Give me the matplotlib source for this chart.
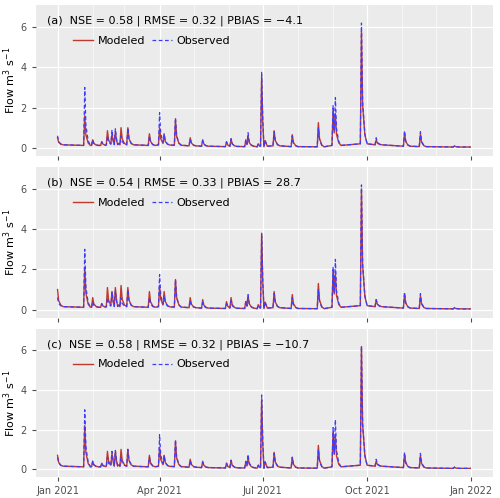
import matplotlib
matplotlib.use("Agg")
import matplotlib.pyplot as plt
import matplotlib.dates as mdates
import datetime as dt

# event day-of-year (0 = 1 Jan 2021) and peak flows
event_days = [0, 24, 31, 39, 44, 48, 51, 56, 62, 81, 90, 94, 104, 117, 128, 149, 153, 166, 168, 177,
              180, 191, 207, 230, 243, 245, 268, 281, 306, 320, 350]
obs_peak = [0.6, 3.0, 0.4, 0.3, 0.6, 0.9, 0.95, 0.6, 1.0, 0.6, 1.75, 0.7, 1.5, 0.45, 0.35, 0.3, 0.45, 0.4, 0.75, 0.2,
            3.75, 0.8, 0.6, 1.0, 2.1, 2.5, 6.2, 0.5, 0.85, 0.8, 0.1]
mod_a = [0.5, 1.6, 0.4, 0.3, 0.85, 0.7, 0.8, 1.0, 1.0, 0.7, 1.0, 0.65, 1.4, 0.5, 0.4, 0.3, 0.45, 0.35, 0.6, 0.2,
         3.5, 0.85, 0.65, 1.25, 1.9, 1.7, 5.8, 0.4, 0.75, 0.7, 0.1]
mod_b = [1.0, 2.1, 0.6, 0.3, 1.1, 0.9, 1.1, 1.2, 1.1, 0.9, 1.2, 0.9, 1.5, 0.6, 0.5, 0.4, 0.6, 0.4, 0.7, 0.25,
         3.8, 0.9, 0.75, 1.3, 2.0, 1.8, 6.0, 0.5, 0.8, 0.7, 0.1]
mod_c = [0.7, 2.2, 0.4, 0.3, 0.9, 0.8, 0.9, 1.0, 1.0, 0.7, 1.1, 0.7, 1.4, 0.5, 0.4, 0.3, 0.45, 0.35, 0.6, 0.2,
         3.5, 0.85, 0.6, 1.2, 1.9, 1.7, 6.2, 0.4, 0.75, 0.7, 0.1]
base_obs = [0.15, 0.12, 0.12, 0.12, 0.14, 0.16, 0.16, 0.15, 0.15, 0.12, 0.15, 0.14, 0.13, 0.1, 0.08, 0.06, 0.07, 0.06, 0.08, 0.05,
            0.08, 0.1, 0.06, 0.05, 0.12, 0.12, 0.2, 0.15, 0.08, 0.06, 0.04]
labels = ["(a)  NSE = 0.58 | RMSE = 0.32 | PBIAS = \u22124.1",
          "(b)  NSE = 0.54 | RMSE = 0.33 | PBIAS = 28.7",
          "(c)  NSE = 0.58 | RMSE = 0.32 | PBIAS = \u221210.7"]

start = dt.date(2021, 1, 1)

def build(peaks):
    pts = {}
    for d, p, b in zip(event_days, peaks, base_obs):
        for off, v in ((-1, b), (0, p), (1, b + (p - b) * 0.35), (3, b + (p - b) * 0.08), (5, b)):
            day = d + off
            if 0 <= day <= 364:
                pts[day] = max(pts.get(day, 0), v)
    pts.setdefault(364, 0.04)
    xs = sorted(pts)
    return [start + dt.timedelta(days=int(x)) for x in xs], [pts[x] for x in xs]

fig = plt.figure(figsize=(5.0, 4.98), dpi=100)
fig.patch.set_facecolor("white")
boxes = [(0.072, 0.687, 0.914, 0.303), (0.072, 0.362, 0.914, 0.303), (0.072, 0.042, 0.914, 0.298)]
mods = [mod_a, mod_b, mod_c]
for i, (box, m, lab) in enumerate(zip(boxes, mods, labels)):
    ax = fig.add_axes(box)
    ax.set_facecolor("#ebebeb")
    for s in ax.spines.values():
        s.set_visible(False)
    ax.grid(True, color="white", lw=0.9)
    ax.set_axisbelow(True)
    xo, yo = build(obs_peak)
    xm, ym = build(m)
    ax.plot(xm, ym, color="#c0392b", lw=1.0, label="Modeled")
    ax.plot(xo, yo, color="#3b3bff", lw=0.9, ls=(0, (3, 2)), label="Observed")
    ax.set_xlim(dt.date(2020, 12, 13), dt.date(2022, 1, 20))
    ax.set_ylim(-0.4, 7.1)
    ax.set_yticks([0, 2, 4, 6])
    ax.xaxis.set_major_locator(mdates.MonthLocator(bymonth=[1, 4, 7, 10]))
    ax.xaxis.set_minor_locator(mdates.MonthLocator(bymonth=[2, 3, 5, 6, 8, 9, 11, 12]))
    ax.xaxis.set_major_formatter(mdates.DateFormatter("%b %Y"))
    ax.grid(True, which="minor", color="white", lw=0.4)
    ax.tick_params(axis="both", labelsize=7, colors="#4d4d4d", length=3)
    ax.tick_params(which="minor", length=0)
    if i < 2:
        ax.tick_params(axis="x", labelbottom=False)
    ax.set_ylabel("Flow m$^3$ s$^{-1}$", fontsize=8, labelpad=2)
    ax.text(0.025, 0.93, lab, transform=ax.transAxes, fontsize=8, va="top")
    ax.legend(loc="upper left", bbox_to_anchor=(0.06, 0.86), frameon=False, fontsize=8,
              ncol=2, handlelength=1.8, columnspacing=0.6, handletextpad=0.4)
fig.savefig("out.png", dpi=100)
